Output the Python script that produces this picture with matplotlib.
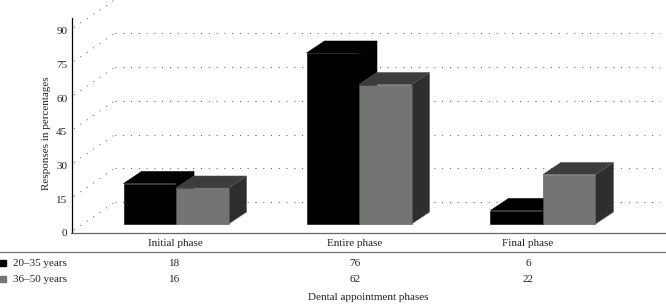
import matplotlib
matplotlib.use('Agg')
import matplotlib.pyplot as plt
from matplotlib.lines import Line2D

plt.rcParams['font.family'] = ['Liberation Serif', 'DejaVu Serif']

fases = ['Initial phase', 'Entire phase', 'Final phase']
jovenes = [18, 76, 6]
mayores = [16, 62, 22]
series = ['20–35 years', '36–50 years']
yticks = [0, 15, 30, 45, 60, 75, 90]

W, H = 666, 305
PX_Y = 2.25    # pixels por unidad
PX_X = 183.0   # pixels por categoria
ancho = 52.5 / PX_X
dx = 18 / PX_X
dy = 12 / PX_Y
base = 9 / PX_Y
centros = [0, 1, 2.005]

fig = plt.figure(figsize=(W / 100, H / 100), dpi=100)
ax = fig.add_axes([71.5 / W, (H - 233) / H, (W - 71.5) / W, 233 / H])
ax.set_xlim((71.5 - 176) / PX_X, (666 - 176) / PX_X)
ax.set_ylim(0, 233 / PX_Y)
ax.patch.set_alpha(0)

for s in ['top', 'right']:
    ax.spines[s].set_visible(False)
ax.spines['left'].set_bounds(0, 215 / PX_Y)
ax.spines['left'].set_linewidth(0.9)
ax.spines['bottom'].set_linewidth(0.9)
ax.spines['bottom'].set_color('#666666')
ax.set_xticks([])
ax.set_yticks(yticks)
ax.tick_params(axis='y', length=0, pad=3, labelsize=8, labelcolor='#222222')

# piso y paredes punteadas
punteado = dict(color='#555555', lw=0.7, ls=(0, (1, 7)), zorder=1, clip_on=True)
gx = 41 / PX_X
gy = 28 / PX_Y
x0 = ax.get_xlim()[0] + 2.5 / PX_X
for v in yticks:
    ax.plot([x0, x0 + gx], [v + 1.3, v + 1.3 + gy], **punteado)
    if v < 90:
        ax.plot([x0 + gx, ax.get_xlim()[1] - 6 / PX_X], [v + 1.3 + gy, v + 1.3 + gy], **punteado)


def barra(xc, v, frente, arriba, lado, borde, z):
    y0 = base
    y1 = base + v
    xr = xc + ancho
    ax.fill([xr, xr + dx, xr + dx, xr], [y0, y0 + dy, y1 + dy, y1], color=lado, ec=borde, lw=0.4, zorder=z)
    ax.fill([xc, xr, xr + dx, xc + dx], [y1, y1, y1 + dy, y1 + dy], color=arriba, ec=borde, lw=0.4, zorder=z)
    ax.fill([xc, xr, xr, xc], [y0, y0, y1, y1], color=frente, ec=borde, lw=0.4, zorder=z + 0.2)


for c, a, b in zip(centros, jovenes, mayores):
    barra(c - ancho, a, '#000000', '#000000', '#000000', '#000000', 3)
    barra(c, b, '#737573', '#3c3c3c', '#2d2f2e', '#555555', 4)

ax.set_ylabel('Responses in percentages', fontsize=8, color='#222222')
ax.yaxis.set_label_coords((51 - 71.5) / (W - 71.5), (233 - 133) / 233)

# tabla de abajo
fig.add_artist(Line2D([0, 1], [(H - 252) / H] * 2, color='#777777', lw=0.9))


def texto(x, y, s, **kw):
    fig.text(x / W, (H - y) / H, s, fontsize=8, color='#222222', va='center', **kw)


for x, nombre, a, b in zip([175, 355, 528], fases, jovenes, mayores):
    texto(x, 243, nombre, ha='center')
    texto(x, 264, str(a), ha='center')
    texto(x, 280, str(b), ha='center')

for y, nombre, col in zip([263, 279], series, ['#000000', '#737573']):
    texto(13, y, nombre, ha='left')
    fig.add_artist(plt.Rectangle((0, (H - y - 3) / H), 6 / W, 6 / H, color=col, transform=fig.transFigure))

texto(368, 298, 'Dental appointment phases', ha='center')

fig.savefig('out.png', dpi=100)
